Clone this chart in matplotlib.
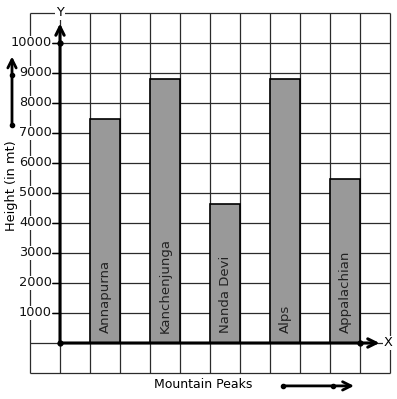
import numpy as np
import matplotlib
matplotlib.use('Agg')
import matplotlib.pyplot as plt

peaks = ['Annapurna', 'Kanchenjunga', 'Nanda Devi', 'Alps', 'Appalachian']
heights = [7460, 8800, 4630, 8800, 5460]
bar_x = [1, 3, 5, 7, 9]
yticks = [1000, 2000, 3000, 4000, 5000, 6000, 7000, 8000, 9000, 10000]

fig = plt.figure(figsize=(3.97, 3.99), dpi=100)
ax = fig.add_axes([0, 0, 1, 1])
ax.set_xlim(-2, 337 / 30)
ax.set_ylim(-56 / 30 * 1000, 343 / 30 * 1000)
ax.axis('off')

# grid paper
grid_col = '#2b2b2b'
ax.vlines(np.arange(-1, 12), -1000, 11000, color=grid_col, lw=0.9, zorder=1)
ax.hlines(np.arange(-1000, 12000, 1000), -1, 11, color=grid_col, lw=0.9, zorder=1)

# bars
ax.bar(bar_x, heights, width=1, align='edge', color='#999999',
       edgecolor='black', lw=1.2, zorder=2)
for x, name in zip(bar_x, peaks):
    ax.text(x + 0.5, 330, name, rotation=90, ha='center', va='bottom',
            fontsize=9.5, color='#222222', zorder=3)

# axes with arrows
arrow = dict(arrowstyle='->,head_length=0.6,head_width=0.3', lw=2.2,
             color='black', shrinkA=0, shrinkB=0)
ax.annotate('', xy=(0, 10650), xytext=(0, 0), arrowprops=arrow, zorder=4)
ax.annotate('', xy=(10.65, 0), xytext=(0, 0), arrowprops=arrow, zorder=4)
ax.plot([0, 0, 10], [0, 10000, 0], 'o', color='black', ms=3.5, zorder=5)

# ticks and labels
for t in yticks:
    ax.plot([-0.25, 0], [t, t], color='black', lw=1.0, zorder=4)
    ax.text(-0.27, t, str(t), ha='right', va='center', fontsize=9.3,
            color='#111111', zorder=4,
            bbox=dict(fc='white', ec='none', pad=0.3))

ax.text(0, 11000, 'Y', ha='center', va='center', fontsize=9.3, zorder=4,
        bbox=dict(fc='white', ec='none', pad=0.5))
ax.text(10.95, 0, 'X', ha='center', va='center', fontsize=9.3, zorder=4,
        bbox=dict(fc='white', ec='none', pad=0.5))
ax.text(-1.62, 5230, 'Height (in mt)', rotation=90, ha='center', va='center',
        fontsize=9.3, zorder=4, bbox=dict(fc='white', ec='none', pad=0.3))
ax.text(4.77, -1400, 'Mountain Peaks', ha='center', va='center', fontsize=9)

# side arrows
side = dict(arrowstyle='->,head_length=0.6,head_width=0.3', lw=2,
            color='black', shrinkA=0, shrinkB=0)
ax.annotate('', xy=(-1.6, 9550), xytext=(-1.6, 7270), arrowprops=side)
ax.plot([-1.6, -1.6], [7270, 8930], 'o', color='black', ms=3)
ax.annotate('', xy=(9.8, -1430), xytext=(7.43, -1430), arrowprops=side)
ax.plot([7.43, 9.1], [-1430, -1430], 'o', color='black', ms=3)

fig.savefig('out.png', dpi=100, facecolor='white')
